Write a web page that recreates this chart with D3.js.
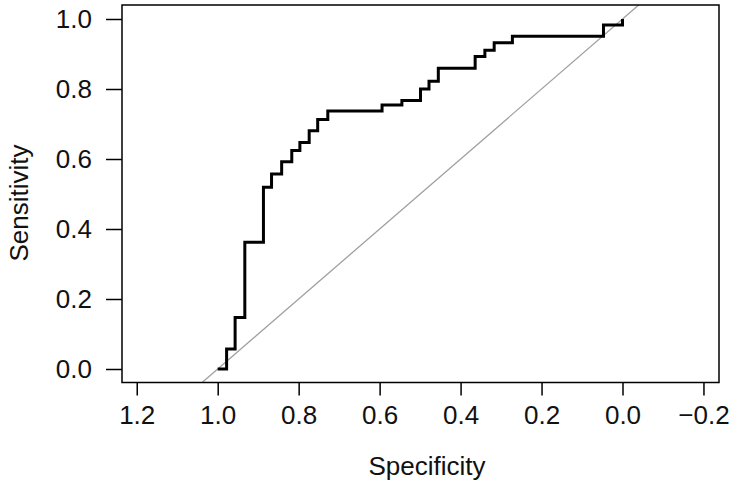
<!DOCTYPE html>
<html><head><meta charset="utf-8">
<script src="https://cdn.jsdelivr.net/npm/d3@7"></script>
<style>body{margin:0;background:#fff}svg{display:block}text{font-family:"Liberation Sans",Arial,Helvetica,sans-serif}</style>
</head><body><svg id="c" width="736" height="488"></svg>
<script>
// ROC curve points (specificity, sensitivity)
const specificity = [1.0, 0.978, 0.957, 0.933, 0.887, 0.867, 0.842, 0.817, 0.797, 0.774, 0.753, 0.728, 0.594, 0.545, 0.499, 0.478, 0.455, 0.364, 0.340, 0.317, 0.272, 0.047, 0.0];
const sensitivity = [0.0, 0.057, 0.147, 0.362, 0.519, 0.557, 0.592, 0.624, 0.647, 0.681, 0.713, 0.737, 0.754, 0.767, 0.800, 0.822, 0.859, 0.893, 0.911, 0.932, 0.951, 0.983, 1.0];
const xTicks = [1.2, 1.0, 0.8, 0.6, 0.4, 0.2, 0.0, -0.2];
const yTicks = [0.0, 0.2, 0.4, 0.6, 0.8, 1.0];

const svg = d3.select("#c");
const L = 122, R = 719, T = 5, B = 382.5;
const x = d3.scaleLinear().domain([1.0, 0.0]).range([217.7, 622.5]);
const y = d3.scaleLinear().domain([0, 1]).range([369, 19]);

// diagonal (clipped to box)
svg.append("clipPath").attr("id","clip").append("rect").attr("x",L).attr("y",T).attr("width",R-L).attr("height",B-T);
svg.append("line").attr("clip-path","url(#clip)")
  .attr("x1", x(1.1)).attr("y1", y(-0.1)).attr("x2", x(-0.1)).attr("y2", y(1.1))
  .attr("stroke","#a0a0a0").attr("stroke-width",1.3);

const pts = specificity.map((s,i)=>[s, sensitivity[i]]);
svg.append("path").datum(pts)
  .attr("d", d3.line().x(d=>x(d[0])).y(d=>y(d[1])).curve(d3.curveStepAfter))
  .attr("fill","none").attr("stroke","#000").attr("stroke-width",3).attr("stroke-linejoin","miter");

// box
svg.append("rect").attr("x",L).attr("y",T).attr("width",R-L).attr("height",B-T)
  .attr("fill","none").attr("stroke","#000").attr("stroke-width",1.5);

const fmt = d3.format(".1f");
const xAxis = svg.append("g").attr("transform",`translate(0,${B})`)
  .call(d3.axisBottom(x).tickValues(xTicks).tickFormat(fmt).tickSize(13).tickPadding(10));
const yAxis = svg.append("g").attr("transform",`translate(${L},0)`)
  .call(d3.axisLeft(y).tickValues(yTicks).tickFormat(fmt).tickSize(16).tickPadding(14));
[xAxis, yAxis].forEach(g=>{
  g.select(".domain").remove();
  g.selectAll(".tick line").attr("stroke","#000").attr("stroke-width",1.5);
  g.selectAll(".tick text").attr("fill","#111").style("font-size","26px");
});

svg.append("text").attr("x", 427).attr("y", 475).attr("text-anchor","middle")
  .style("font-size","26px").attr("fill","#111").text("Specificity");
svg.append("text").attr("transform","translate(28,203) rotate(-90)").attr("text-anchor","middle")
  .style("font-size","26px").attr("fill","#111").text("Sensitivity");
</script></body></html>
